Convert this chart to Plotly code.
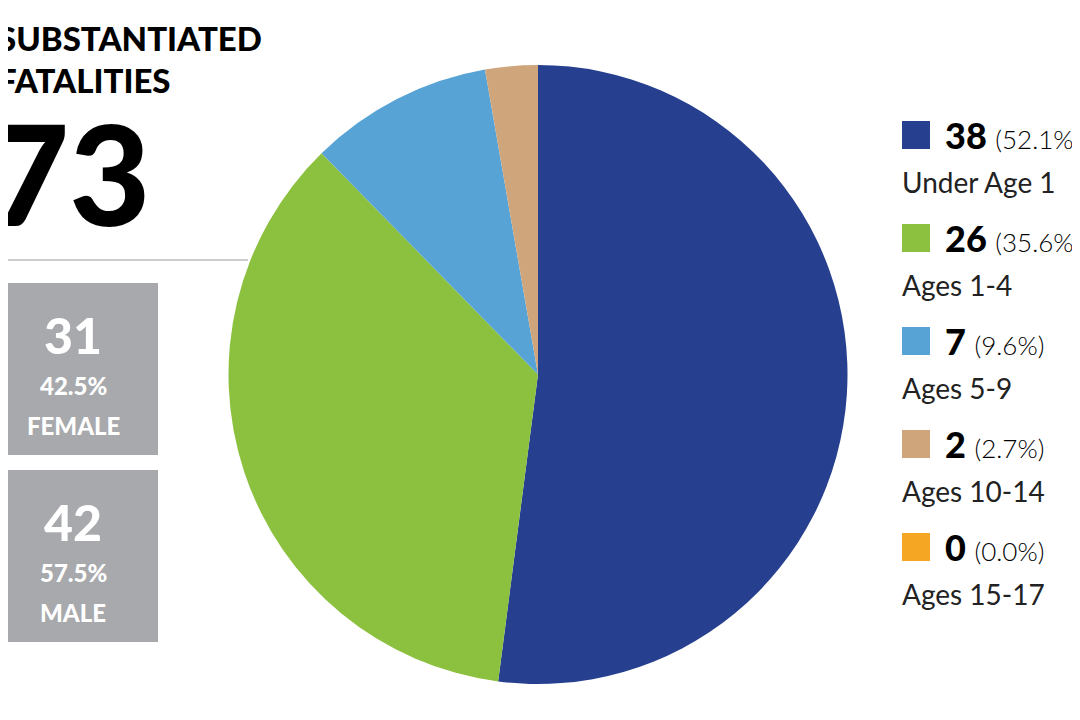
import plotly.graph_objects as go

labels = ["Under Age 1", "Ages 1-4", "Ages 5-9", "Ages 10-14", "Ages 15-17"]
values = [38, 26, 7, 2, 0]
colors = ["#26408f", "#8cc03f", "#58a3d5", "#cfa57b", "#f5a623"]
total = 73
female = 31
male = 42

W, H = 1080, 720
DX, DY = -8, -8
def px(x): return (x + DX) / W
def py(y): return 1 - (y + DY) / H

fig = go.Figure(go.Pie(labels=labels, values=values, sort=False, direction="clockwise",
                       rotation=0, marker=dict(colors=colors), textinfo="none",
                       hoverinfo="label+value", showlegend=False,
                       domain=dict(x=[px(228), px(848)], y=[py(684), py(65)])))

ann = []
shapes = []
def A(x, y, t, size, color="black", fam="Lato Black", xanchor="left"):
    ann.append(dict(x=px(x), y=py(y), xref="paper", yref="paper", text=t, showarrow=False,
                    xanchor=xanchor, yanchor="middle", font=dict(size=size, color=color, family=fam)))

A(-4, 38, "SUBSTANTIATED", 33)
A(-4, 80, "FATALITIES", 33)
A(-14, 172, str(total), 140)
shapes.append(dict(type="line", xref="paper", yref="paper", x0=0, x1=px(248), y0=py(260), y1=py(260),
                   line=dict(color="#cccccc", width=2)))
for (y0, y1, n, lab) in [(283, 455, female, "FEMALE"), (470, 642, male, "MALE")]:
    shapes.append(dict(type="rect", xref="paper", yref="paper", x0=-0.01, x1=px(158), y0=py(y1), y1=py(y0),
                       fillcolor="#a7a9ac", line=dict(width=0)))
    A(73, y0+52, str(n), 50, "white", xanchor="center")
    A(73, y0+102, f"{n/total*100:.1f}%", 24, "white", xanchor="center")
    A(73, y0+142, lab, 24, "white", xanchor="center")

for i, (lab, v, c) in enumerate(zip(labels, values, colors)):
    yr = 135 + i*103
    shapes.append(dict(type="rect", xref="paper", yref="paper", x0=px(902), x1=px(930),
                       y0=py(yr+14), y1=py(yr-14), fillcolor=c, line=dict(width=0)))
    A(943, yr, f"<b>{v}</b> <span style='font-family:Lato Light;font-size:26px'>({v/total*100:.1f}%)</span>", 36)
    A(900, yr+47, lab, 28, "#222222", fam="Lato")

fig.update_layout(width=W, height=H, margin=dict(l=0, r=0, t=0, b=0), paper_bgcolor="white",
                  annotations=ann, shapes=shapes)
fig.write_html("out.html")
